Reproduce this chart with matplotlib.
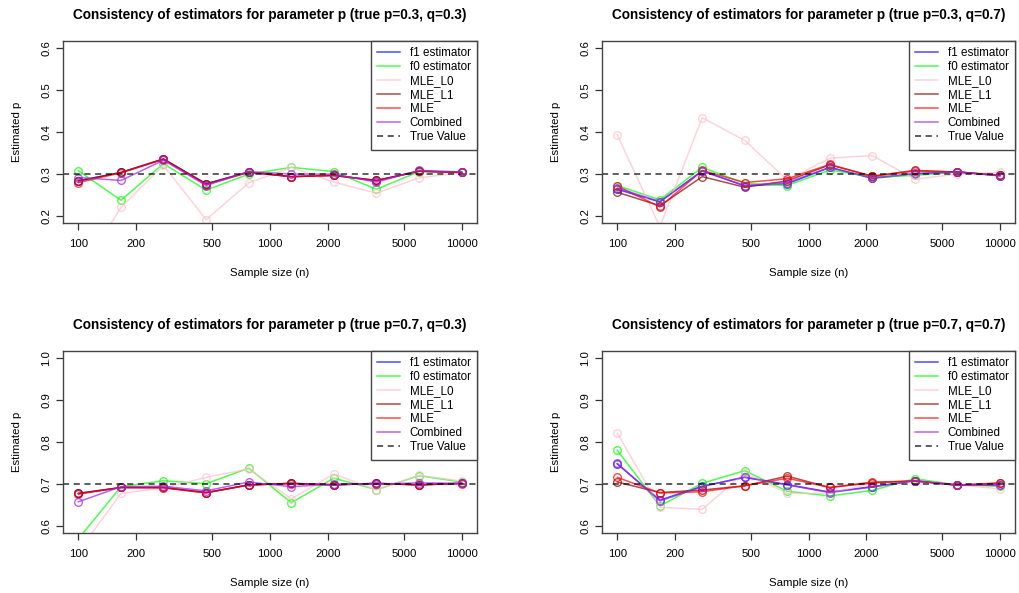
import numpy as np
import matplotlib
matplotlib.use('Agg')
import matplotlib.pyplot as plt
from matplotlib import rcParams

rcParams['font.family'] = 'sans-serif'
rcParams['font.sans-serif'] = ['Liberation Sans', 'DejaVu Sans']

# tamanhos de amostra (log-espaçados)
n_values = [100, 167, 278, 464, 774, 1292, 2154, 3594, 5995, 10000]

# cenários: (p, q)
scenarios = [(0.3, 0.3), (0.3, 0.7), (0.7, 0.3), (0.7, 0.7)]

# estimativas, uma linha por cenário
f1_est = [
    [0.284, 0.304, 0.336, 0.277, 0.305, 0.294, 0.297, 0.285, 0.307, 0.304],
    [0.264, 0.234, 0.308, 0.272, 0.277, 0.316, 0.290, 0.300, 0.306, 0.296],
    [0.678, 0.692, 0.692, 0.680, 0.698, 0.702, 0.698, 0.702, 0.698, 0.702],
    [0.748, 0.662, 0.695, 0.716, 0.699, 0.681, 0.694, 0.708, 0.698, 0.698],
]
f0_est = [
    [0.308, 0.238, 0.325, 0.262, 0.300, 0.316, 0.306, 0.264, 0.306, 0.306],
    [0.273, 0.239, 0.316, 0.278, 0.273, 0.310, 0.293, 0.297, 0.305, 0.297],
    [0.570, 0.694, 0.708, 0.701, 0.738, 0.656, 0.714, 0.687, 0.720, 0.705],
    [0.780, 0.648, 0.702, 0.732, 0.683, 0.672, 0.685, 0.713, 0.698, 0.695],
]
mle_l0_est = [
    [0.060, 0.221, 0.321, 0.192, 0.279, 0.316, 0.281, 0.255, 0.291, 0.304],
    [0.393, 0.175, 0.434, 0.380, 0.286, 0.338, 0.344, 0.288, 0.300, 0.304],
    [0.540, 0.678, 0.691, 0.716, 0.736, 0.665, 0.724, 0.686, 0.721, 0.707],
    [0.821, 0.645, 0.640, 0.727, 0.678, 0.678, 0.702, 0.708, 0.698, 0.689],
]
mle_l1_est = [
    [0.284, 0.304, 0.336, 0.277, 0.305, 0.294, 0.297, 0.285, 0.307, 0.304],
    [0.257, 0.225, 0.294, 0.269, 0.284, 0.322, 0.295, 0.309, 0.305, 0.297],
    [0.678, 0.692, 0.692, 0.680, 0.698, 0.702, 0.698, 0.702, 0.698, 0.702],
    [0.705, 0.680, 0.686, 0.696, 0.719, 0.692, 0.703, 0.708, 0.697, 0.702],
]
mle_est = [
    [0.280, 0.303, 0.335, 0.275, 0.304, 0.294, 0.297, 0.284, 0.307, 0.304],
    [0.272, 0.222, 0.309, 0.280, 0.289, 0.323, 0.295, 0.307, 0.305, 0.297],
    [0.676, 0.692, 0.691, 0.679, 0.698, 0.701, 0.699, 0.701, 0.699, 0.701],
    [0.716, 0.679, 0.682, 0.696, 0.714, 0.692, 0.705, 0.707, 0.698, 0.703],
]
combined_est = [
    [0.292, 0.285, 0.333, 0.273, 0.306, 0.300, 0.300, 0.281, 0.309, 0.305],
    [0.267, 0.235, 0.307, 0.273, 0.280, 0.316, 0.291, 0.302, 0.305, 0.296],
    [0.658, 0.694, 0.695, 0.684, 0.705, 0.694, 0.700, 0.700, 0.703, 0.702],
    [0.749, 0.660, 0.694, 0.717, 0.698, 0.680, 0.693, 0.708, 0.698, 0.697],
]

series_labels = ['f1 estimator', 'f0 estimator', 'MLE_L0', 'MLE_L1', 'MLE', 'Combined']
series_colors = ['#0000FF', '#00FF00', '#FFC0CB', '#8B0000', '#FF0000', '#A020F0']
series_data = [f1_est, f0_est, mle_l0_est, mle_l1_est, mle_est, combined_est]

x_ticks = [100, 200, 500, 1000, 2000, 5000, 10000]

W, H = 1019, 593
fig = plt.figure(figsize=(W / 100, H / 100), dpi=100)
fig.patch.set_facecolor('white')

# caixas dos painéis em pixels (x0, y0_topo, x1, y1_base)
caixas = [(63, 41, 477, 223), (602, 41, 1015, 223),
          (63, 351, 477, 533), (602, 351, 1015, 533)]

for k, (p, q) in enumerate(scenarios):
    x0, y0, x1, y1 = caixas[k]
    ax = fig.add_axes([x0 / W, 1 - y1 / H, (x1 - x0) / W, (y1 - y0) / H])

    for dados, cor, rotulo in zip(series_data, series_colors, series_labels):
        ax.plot(n_values, dados[k], color=cor, alpha=0.7, lw=1.1,
                marker='o', markersize=5.5, markerfacecolor='none',
                markeredgewidth=1.0, label=rotulo, clip_on=True)

    ax.axhline(p, color='black', ls=(0, (4, 3)), lw=1.1, alpha=0.8, label='True Value')

    ax.set_xscale('log')
    ax.set_xlim(10 ** 1.92, 10 ** 4.08)
    if p < 0.5:
        ax.set_ylim(0.184, 0.616)
        y_ticks = [0.2, 0.3, 0.4, 0.5, 0.6]
    else:
        ax.set_ylim(0.584, 1.016)
        y_ticks = [0.6, 0.7, 0.8, 0.9, 1.0]

    ax.set_xticks(x_ticks)
    ax.set_xticklabels([str(v) for v in x_ticks])
    ax.xaxis.set_minor_locator(matplotlib.ticker.NullLocator())
    ax.set_yticks(y_ticks)
    ax.set_yticklabels([f"{v:.1f}" for v in y_ticks], rotation=90, va='center')

    ax.tick_params(axis='both', direction='out', length=5, width=0.9,
                   labelsize=8.2, color='#333333')
    ax.tick_params(axis='x', pad=6.5)
    ax.tick_params(axis='y', pad=3.5)
    for s in ax.spines.values():
        s.set_color('#444444')
        s.set_linewidth(1.0)

    ax.set_xlabel('Sample size (n)', fontsize=8.2, labelpad=13.5)
    ax.set_ylabel('Estimated p', fontsize=8.2, labelpad=14)
    ax.set_title(f"Consistency of estimators for parameter p (true p={p}, q={q})",
                 fontsize=9.8, weight='bold', pad=16)

    leg = ax.legend(loc='upper right', borderaxespad=0, fancybox=False,
                    framealpha=1, edgecolor='#444444', fontsize=8.4,
                    handlelength=1.95, handletextpad=0.85, labelspacing=0.17,
                    borderpad=0.55)
    leg.get_frame().set_linewidth(1.0)
    for h in leg.get_lines():
        h.set_marker('')

plt.savefig('out.png', dpi=100, facecolor='white')
